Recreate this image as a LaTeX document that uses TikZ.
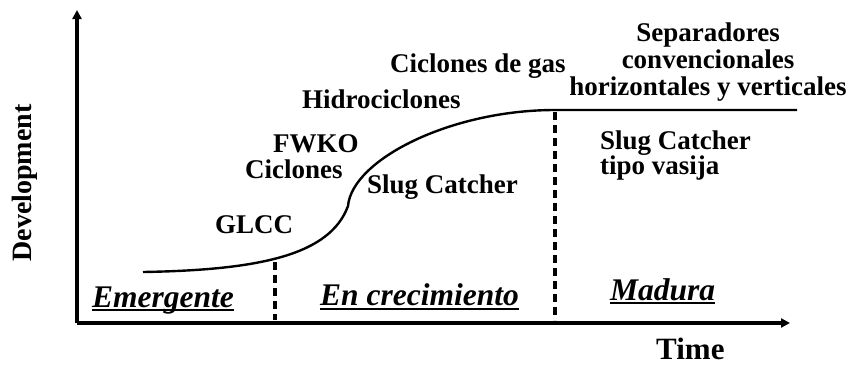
\documentclass[tikz,border=0pt]{standalone}
\usepackage{fontspec}
\usepackage{tikz}
\usetikzlibrary{arrows.meta, positioning}
\newfontfamily\capfont{Liberation Serif}

\begin{document}
\begin{tikzpicture}[x=1pt, y=-1pt,
  lbl/.style={inner sep=0pt, font=\capfont\bfseries\fontsize{27}{25}\selectfont, align=left},
  phase/.style={inner sep=0pt, anchor=base west, font=\capfont\bfseries\itshape\fontsize{31.5}{30}\selectfont},
  axis/.style={line width=3.2pt, -{Triangle[length=9pt, width=9pt]}},
  curve/.style={line width=2.4pt},
  divider/.style={line width=3.2pt, dash pattern=on 8pt off 5pt},
  uline/.style={line width=1.6pt}
]
\useasboundingbox (0,0) rectangle (854,365);

%% Axes
\coordinate (origin) at (77,323);
\coordinate (ytip)   at (77,10);
\coordinate (xtip)   at (790,323);
\draw[axis] (origin) -- (ytip);
\draw[axis] (origin) -- (xtip);
\node[lbl, rotate=90, font=\capfont\bfseries\fontsize{28}{28}\selectfont] (ylab) at (25,183) {Development};
\node[lbl, anchor=base west, font=\capfont\bfseries\fontsize{31}{31}\selectfont] (xlab) at (656,359) {Time};

%% S-curve and plateau
\draw[curve] (143,272) .. controls (260,270) and (330,255) .. (348,206)
  .. controls (352,160) and (450,110) .. (555,110) -- (797,110);

%% Phase dividers
\draw[divider] (275,262) -- (275,320);
\draw[divider] (555,112) -- (555,320);

%% Phases
\node[phase] (emerg) at (92,307) {Emergente};
\node[phase] (crec)  at (320,305) {En crecimiento};
\node[phase] (madura) at (610,300) {Madura};
\draw[uline] ([yshift=-3pt]emerg.base west) -- ([yshift=-3pt]emerg.base east);
\draw[uline] ([yshift=-4pt]crec.base west) -- ([yshift=-4pt]crec.base east);
\draw[uline] ([yshift=-3pt]madura.base west) -- ([yshift=-3pt]madura.base east);

%% Technologies
\node[lbl, anchor=base west] (glcc)  at (215,233) {GLCC};
\node[lbl, anchor=base west] (fwko)  at (273,152) {FWKO};
\node[lbl, anchor=base west] (cicl)  at (245,178) {Ciclones};
\node[lbl, anchor=base west] (hidro) at (302,108) {Hidrociclones};
\node[lbl, anchor=base west] (gas)   at (390,72)  {Ciclones de gas};
\node[lbl, anchor=base west] (slug)  at (367,193) {Slug Catcher};
\node[lbl, anchor=north west, font=\capfont\bfseries\fontsize{27}{25}\selectfont] (vasija) at (600,131) {Slug Catcher\\tipo vasija};
\node[lbl, anchor=north, align=center, font=\capfont\bfseries\fontsize{27}{27}\selectfont] (sep) at (708,23) {Separadores\\convencionales\\horizontales y verticales};

\end{tikzpicture}
\end{document}
